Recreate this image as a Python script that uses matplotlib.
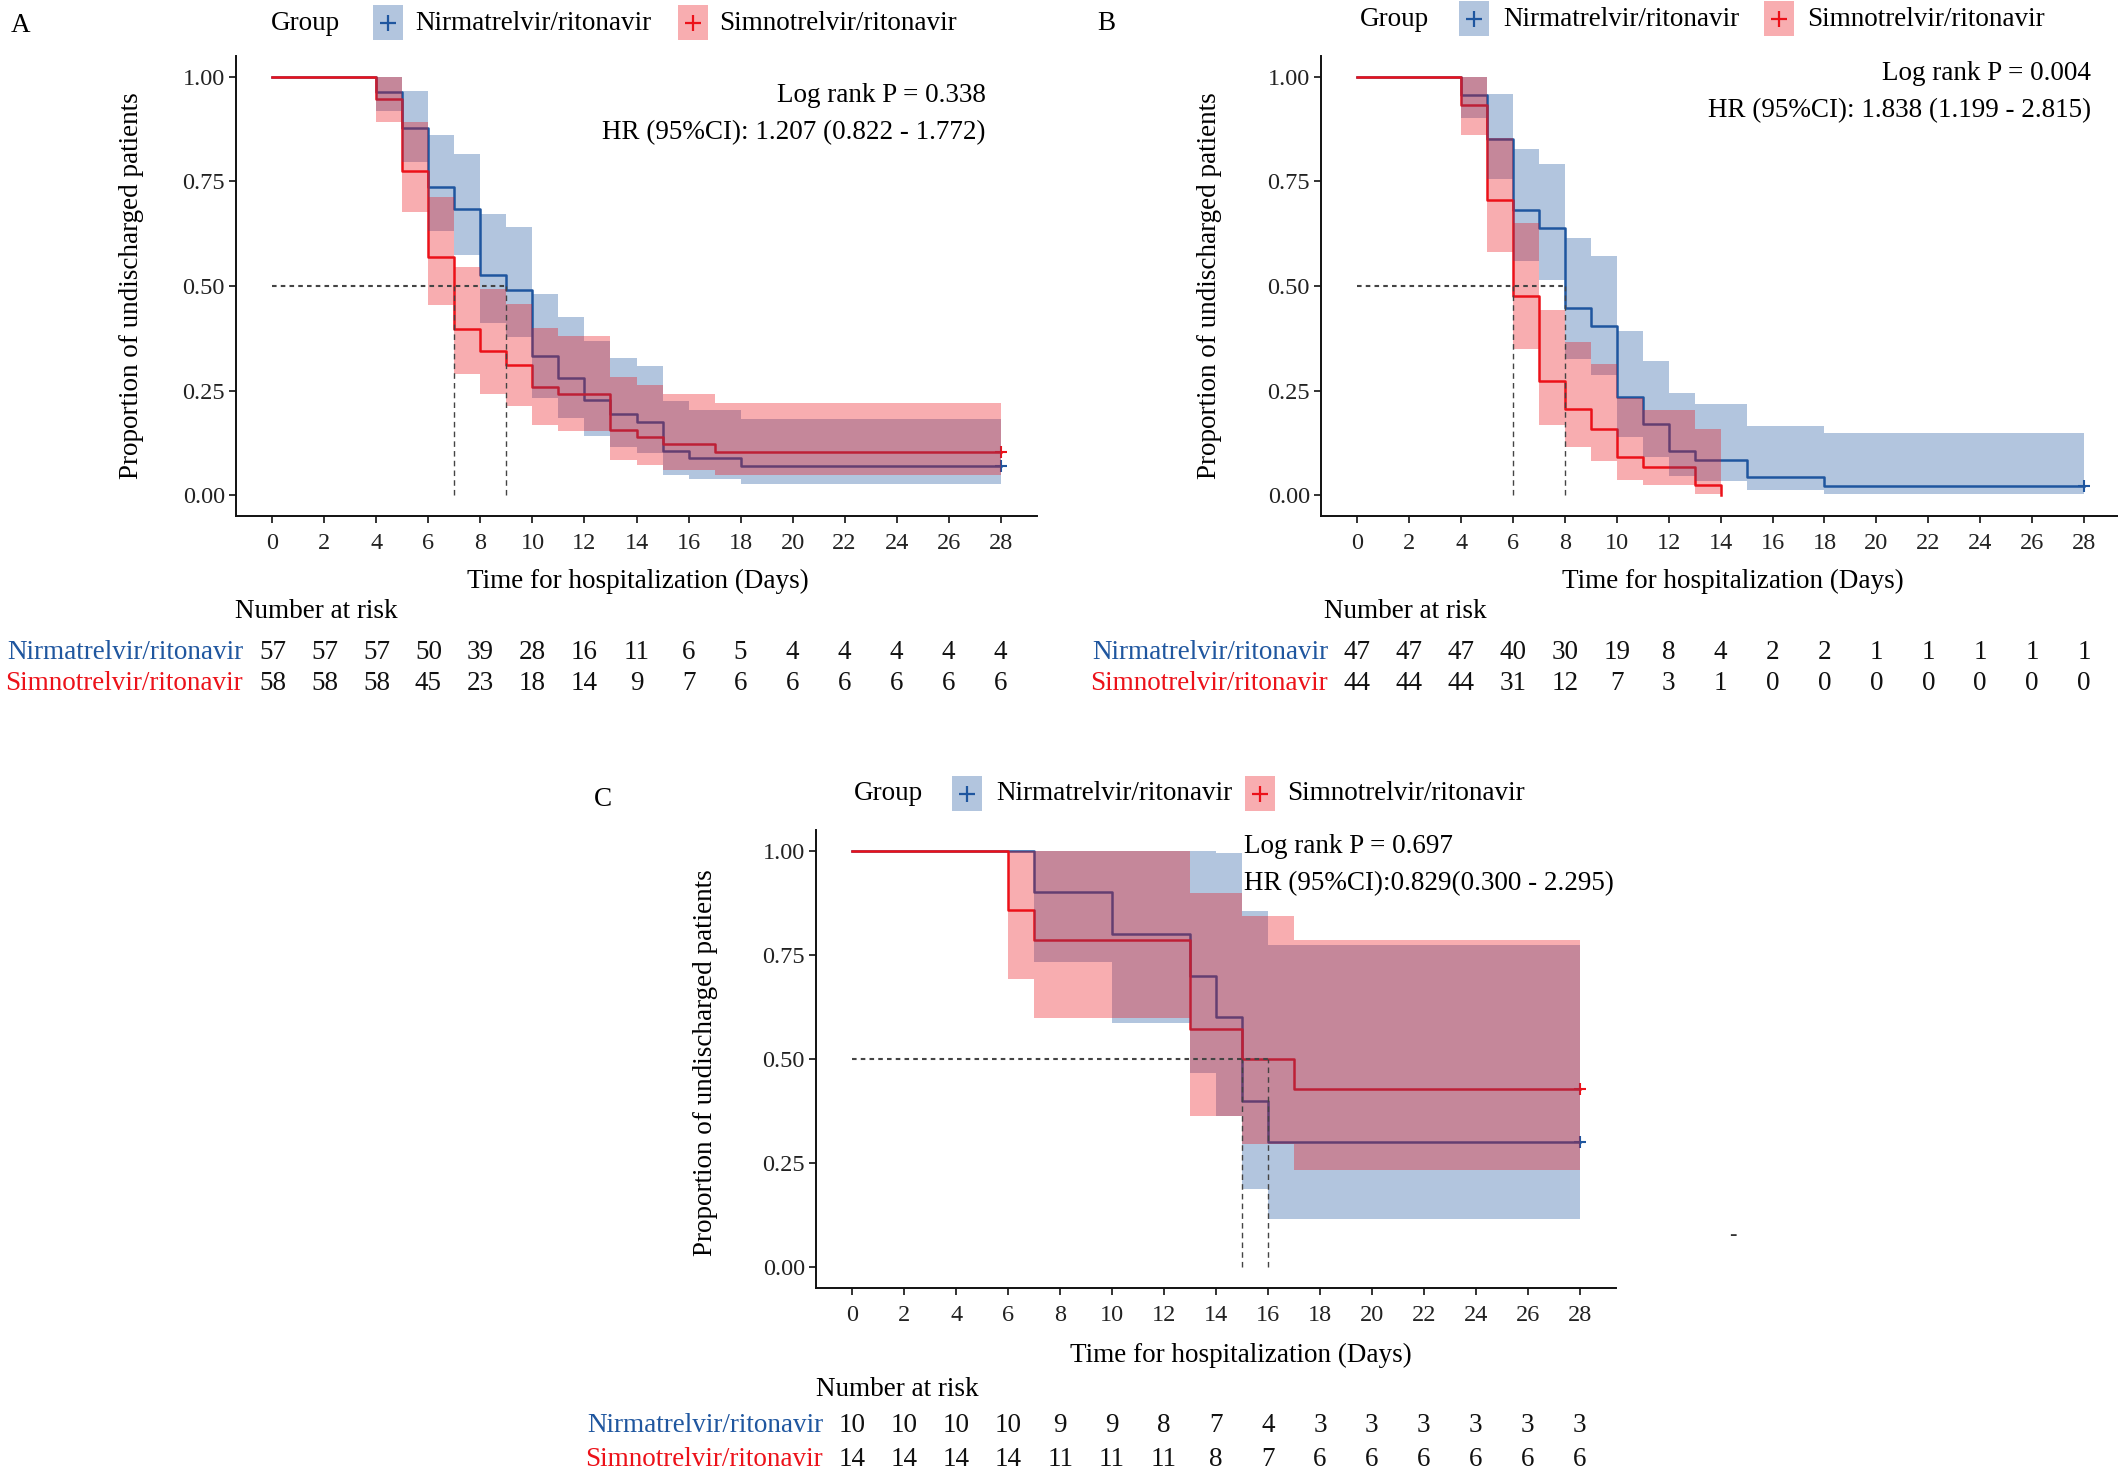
import matplotlib
matplotlib.use("Agg")
import matplotlib.pyplot as plt
import matplotlib.transforms as mtransforms
from matplotlib.patches import Rectangle
from matplotlib.lines import Line2D

plt.rcParams['font.family'] = ['Liberation Serif', 'DejaVu Serif']

W, H = 2118, 1473
BLUE = '#1F569F'
RED = '#EC1119'
ALPHA = 0.34
BIG = 19.5
TICK = 17.5

groups = ['Nirmatrelvir/ritonavir', 'Simnotrelvir/ritonavir']
x_ticks = list(range(0, 29, 2))
y_ticks = [0.0, 0.25, 0.5, 0.75, 1.0]
y_ticklabels = ['0.00', '0.25', '0.50', '0.75', '1.00']
x_title = 'Time for hospitalization (Days)'
y_title = 'Proportion of undischarged patients'

# ---------------- Panel A ----------------
A_blue_t = [0, 4, 5, 6, 7, 8, 9, 10, 11, 12, 13, 14, 15, 16, 18, 28]
A_blue_s = [1.000, 0.965, 0.877, 0.737, 0.684, 0.526, 0.491, 0.333, 0.281, 0.228, 0.193, 0.175, 0.105, 0.088, 0.070, 0.070]
A_blue_lo = [1.000, 0.918, 0.796, 0.631, 0.574, 0.411, 0.377, 0.231, 0.185, 0.142, 0.114, 0.100, 0.049, 0.038, 0.027, 0.027]
A_blue_up = [1.000, 1.000, 0.967, 0.861, 0.816, 0.673, 0.640, 0.481, 0.425, 0.368, 0.328, 0.308, 0.224, 0.203, 0.181, 0.181]
A_red_t = [0, 4, 5, 6, 7, 8, 9, 10, 11, 13, 14, 15, 17, 28]
A_red_s = [1.000, 0.948, 0.776, 0.569, 0.397, 0.345, 0.310, 0.259, 0.241, 0.155, 0.138, 0.121, 0.103, 0.103]
A_red_lo = [1.000, 0.893, 0.676, 0.455, 0.289, 0.242, 0.212, 0.167, 0.153, 0.085, 0.073, 0.060, 0.049, 0.049]
A_red_up = [1.000, 1.000, 0.891, 0.712, 0.545, 0.492, 0.456, 0.400, 0.381, 0.283, 0.263, 0.242, 0.221, 0.221]
A_medians = [9, 7]
A_risk_blue = [57, 57, 57, 50, 39, 28, 16, 11, 6, 5, 4, 4, 4, 4, 4]
A_risk_red = [58, 58, 58, 45, 23, 18, 14, 9, 7, 6, 6, 6, 6, 6, 6]
A_stats = ['Log rank P = 0.338', 'HR (95%CI): 1.207 (0.822 - 1.772)']

# ---------------- Panel B ----------------
B_blue_t = [0, 4, 5, 6, 7, 8, 9, 10, 11, 12, 13, 15, 18, 28]
B_blue_s = [1.000, 0.957, 0.851, 0.681, 0.638, 0.447, 0.404, 0.234, 0.170, 0.106, 0.085, 0.043, 0.021, 0.021]
B_blue_lo = [1.000, 0.901, 0.755, 0.560, 0.515, 0.325, 0.286, 0.140, 0.091, 0.046, 0.033, 0.011, 0.003, 0.003]
B_blue_up = [1.000, 1.000, 0.959, 0.828, 0.792, 0.614, 0.572, 0.393, 0.320, 0.244, 0.217, 0.165, 0.148, 0.148]
B_red_t = [0, 4, 5, 6, 7, 8, 9, 10, 11, 13, 14]
B_red_s = [1.000, 0.932, 0.705, 0.477, 0.273, 0.205, 0.159, 0.091, 0.068, 0.023, 0.000]
B_red_lo = [1.000, 0.860, 0.582, 0.350, 0.168, 0.114, 0.081, 0.036, 0.023, 0.003, 0.003]
B_red_up = [1.000, 1.000, 0.853, 0.650, 0.442, 0.366, 0.314, 0.231, 0.203, 0.158, 0.158]
B_medians = [8, 6]
B_risk_blue = [47, 47, 47, 40, 30, 19, 8, 4, 2, 2, 1, 1, 1, 1, 1]
B_risk_red = [44, 44, 44, 31, 12, 7, 3, 1, 0, 0, 0, 0, 0, 0, 0]
B_stats = ['Log rank P = 0.004', 'HR (95%CI): 1.838 (1.199 - 2.815)']

# ---------------- Panel C ----------------
C_blue_t = [0, 7, 10, 13, 14, 15, 16, 28]
C_blue_s = [1.000, 0.900, 0.800, 0.700, 0.600, 0.400, 0.300, 0.300]
C_blue_lo = [1.000, 0.732, 0.587, 0.467, 0.362, 0.187, 0.116, 0.116]
C_blue_up = [1.000, 1.000, 1.000, 1.000, 0.995, 0.855, 0.773, 0.773]
C_red_t = [0, 6, 7, 13, 15, 17, 28]
C_red_s = [1.000, 0.857, 0.786, 0.571, 0.500, 0.429, 0.429]
C_red_lo = [1.000, 0.692, 0.598, 0.363, 0.296, 0.234, 0.234]
C_red_up = [1.000, 1.000, 1.000, 0.899, 0.844, 0.785, 0.785]
C_medians = [15, 16]
C_risk_blue = [10, 10, 10, 10, 9, 9, 8, 7, 4, 3, 3, 3, 3, 3, 3]
C_risk_red = [14, 14, 14, 14, 11, 11, 11, 8, 7, 6, 6, 6, 6, 6, 6]
C_stats = ['Log rank P = 0.697', 'HR (95%CI):0.829(0.300 - 2.295)']

fig = plt.figure(figsize=(W / 100, H / 100), dpi=100)


def fx(px):
    return px / W


def fy(py):
    return 1 - py / H


def make_axes(left, right, top, bottom, xmax):
    ax = fig.add_axes([fx(left), fy(bottom), (right - left) / W, (bottom - top) / H])
    ax.set_xlim(-1.4, xmax)
    ax.set_ylim(-0.05, 1.05)
    for s in ['top', 'right']:
        ax.spines[s].set_visible(False)
    for s in ['left', 'bottom']:
        ax.spines[s].set_linewidth(1.4)
        ax.spines[s].set_color('#111111')
    ax.set_xticks(x_ticks)
    ax.set_xticklabels([str(v) for v in x_ticks], fontsize=TICK)
    ax.set_yticks(y_ticks)
    ax.set_yticklabels(y_ticklabels, fontsize=TICK)
    ax.tick_params(axis='both', length=5, width=1.2, color='#111111', labelcolor='#222222')
    ax.tick_params(axis='x', pad=7)
    ax.tick_params(axis='y', pad=3)
    ax.patch.set_alpha(0)
    return ax


def draw_panel(ax, blue, red, medians):
    bt, bs, blo, bup = blue
    rt, rs, rlo, rup = red
    ax.step(bt, bs, where='post', color=BLUE, lw=1.8, zorder=2)
    ax.step(rt, rs, where='post', color=RED, lw=1.8, zorder=2)
    ax.fill_between(bt, blo, bup, step='post', color=BLUE, alpha=ALPHA, lw=0, zorder=3)
    ax.fill_between(rt, rlo, rup, step='post', color=RED, alpha=ALPHA, lw=0, zorder=4)
    # censor marks at end of follow-up
    if bs[-1] > 0:
        ax.plot([bt[-1]], [bs[-1]], marker='+', color=BLUE, ms=9, mew=1.5, zorder=2)
    if rs[-1] > 0:
        ax.plot([rt[-1]], [rs[-1]], marker='+', color=RED, ms=9, mew=1.5, zorder=2)
    # median lines
    ax.plot([0, max(medians)], [0.5, 0.5], color='#444444', lw=1.5, ls=(0, (2.2, 2.0)), zorder=5)
    for m in medians:
        ax.plot([m, m], [0, 0.5], color='#444444', lw=1.0, ls=(0, (4, 3)), zorder=5)


def legend(group_x, y, bbox_x, btext_x, rbox_x, rtext_x):
    fig.text(fx(group_x), fy(y), 'Group', fontsize=BIG, ha='left', va='center')
    for bx, tx, col, name in [(bbox_x, btext_x, BLUE, groups[0]), (rbox_x, rtext_x, RED, groups[1])]:
        fig.add_artist(Rectangle((fx(bx), fy(y + 17)), 30 / W, 35 / H, transform=fig.transFigure,
                                 facecolor=col, alpha=ALPHA, edgecolor='none'))
        fig.add_artist(Line2D([fx(bx + 15)], [fy(y)], marker='+', color=col, ms=11, mew=1.6,
                              transform=fig.transFigure))
        fig.text(fx(tx), fy(y), name, fontsize=BIG, ha='left', va='center')


def risk_table(ax, title_x, title_y, label_x, row_y, risk_blue, risk_red):
    fig.text(fx(title_x), fy(title_y), 'Number at risk', fontsize=BIG, ha='left', va='center')
    trans = mtransforms.blended_transform_factory(ax.transData, fig.transFigure)
    for yy, vals, col, name in [(row_y[0], risk_blue, BLUE, groups[0]), (row_y[1], risk_red, RED, groups[1])]:
        fig.text(fx(label_x), fy(yy), name, fontsize=BIG, ha='right', va='center', color=col)
        for xv, v in zip(x_ticks, vals):
            ax.text(xv, fy(yy), str(v), transform=trans, fontsize=BIG, ha='center', va='center',
                    color='#111111', clip_on=False)


def titles(ax, xlab_x, xlab_y, ylab_x, ylab_y):
    fig.text(fx(xlab_x), fy(xlab_y), x_title, fontsize=BIG, ha='center', va='center')
    fig.text(fx(ylab_x), fy(ylab_y), y_title, fontsize=BIG, ha='center', va='center', rotation=90)


# ----- Panel A -----
axA = make_axes(236, 1037, 56, 516, 29.4)
draw_panel(axA, (A_blue_t, A_blue_s, A_blue_lo, A_blue_up), (A_red_t, A_red_s, A_red_lo, A_red_up), A_medians)
fig.text(fx(986), fy(95), A_stats[0], fontsize=BIG, ha='right', va='center')
fig.text(fx(986), fy(133), A_stats[1], fontsize=BIG, ha='right', va='center')
fig.text(fx(21), fy(26), 'A', fontsize=BIG, ha='center', va='center')
legend(271, 23, 373, 415, 678, 719)
titles(axA, 638, 581, 131, 286)
risk_table(axA, 235, 611, 243, (652, 683), A_risk_blue, A_risk_red)

# ----- Panel B -----
axB = make_axes(1321, 2118, 56, 516, 29.31)
draw_panel(axB, (B_blue_t, B_blue_s, B_blue_lo, B_blue_up), (B_red_t, B_red_s, B_red_lo, B_red_up), B_medians)
fig.text(fx(2091), fy(73), B_stats[0], fontsize=BIG, ha='right', va='center')
fig.text(fx(2091), fy(111), B_stats[1], fontsize=BIG, ha='right', va='center')
fig.text(fx(1106), fy(24), 'B', fontsize=BIG, ha='center', va='center')
legend(1360, 19, 1459, 1503, 1764, 1807)
titles(axB, 1733, 581, 1209, 286)
risk_table(axB, 1324, 611, 1328, (652, 683), B_risk_blue, B_risk_red)

# ----- Panel C -----
axC = make_axes(816, 1616, 830, 1288, 29.4)
draw_panel(axC, (C_blue_t, C_blue_s, C_blue_lo, C_blue_up), (C_red_t, C_red_s, C_red_lo, C_red_up), C_medians)
fig.text(fx(1244), fy(847), C_stats[0], fontsize=BIG, ha='left', va='center')
fig.text(fx(1244), fy(884), C_stats[1], fontsize=BIG, ha='left', va='center')
fig.text(fx(603), fy(799), 'C', fontsize=BIG, ha='center', va='center')
legend(854, 794, 952, 996, 1245, 1287)
titles(axC, 1241, 1355, 705, 1063)
risk_table(axC, 816, 1389, 823, (1425, 1459), C_risk_blue, C_risk_red)

# stray mark in the original figure
fig.text(fx(1733), fy(1236), '-', fontsize=16, ha='center', va='center', color='#333333')

fig.savefig('out.png', dpi=100, facecolor='white')
